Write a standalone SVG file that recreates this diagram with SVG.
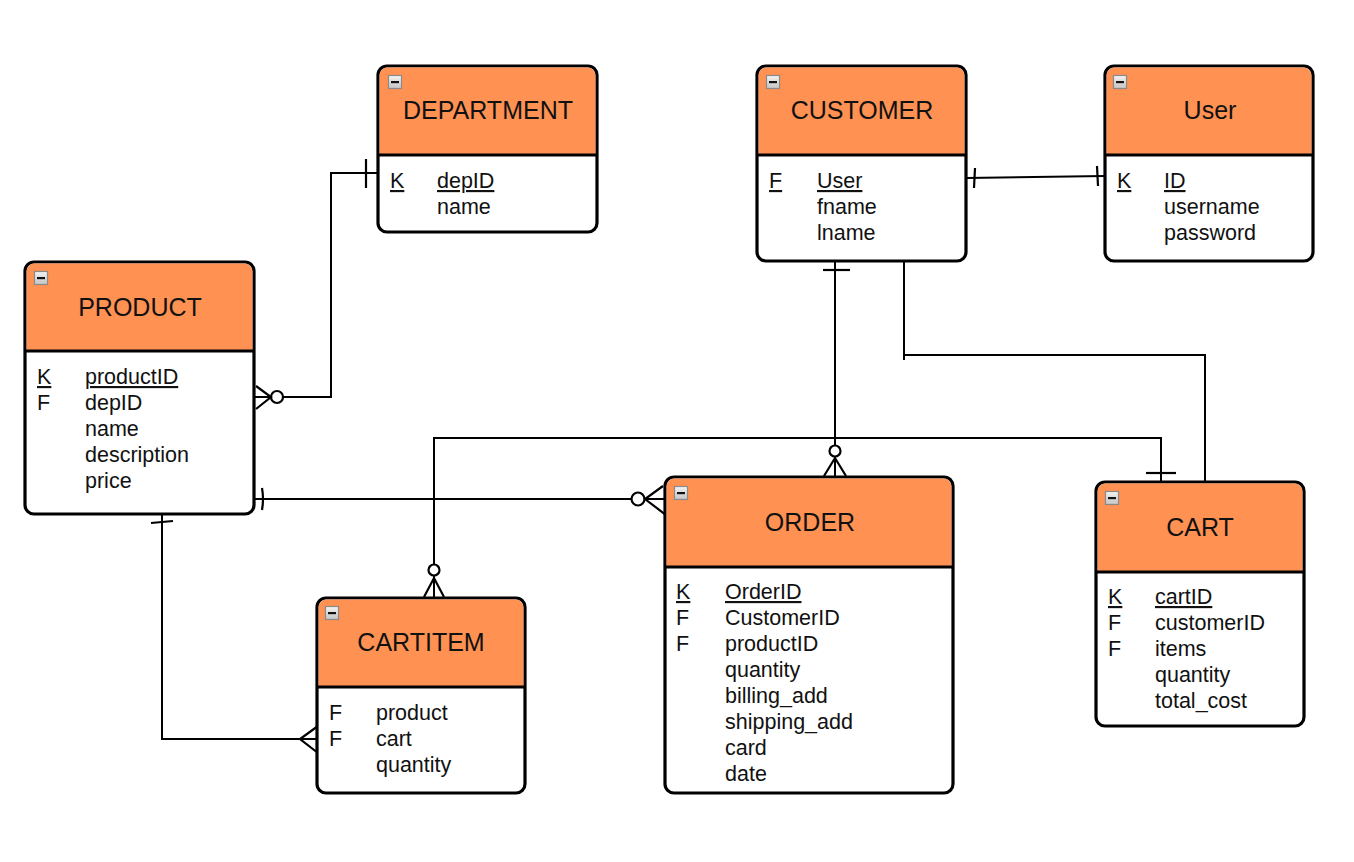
<svg xmlns="http://www.w3.org/2000/svg" width="1354" height="862" viewBox="0 0 1354 862">
<defs>
<linearGradient id="mg" x1="0" y1="0" x2="0" y2="1"><stop offset="0" stop-color="#f4f4f4"/><stop offset="1" stop-color="#c4c4c4"/></linearGradient>
<g id="minus"><rect x="0.5" y="0.5" width="13" height="13" fill="url(#mg)" stroke="#8a8a8a" stroke-width="1.2"/><rect x="3" y="6" width="8" height="2.2" fill="#111"/></g>
</defs>
<style>
.box{fill:#fff;stroke:#000;stroke-width:3.2}
.hdr{fill:#ff9152}
.sep{stroke:#000;stroke-width:3.2}
.t{font-family:"Liberation Sans",Arial,sans-serif;font-size:25px;fill:#111;text-anchor:middle}
.a{font-family:"Liberation Sans",Arial,sans-serif;font-size:21.5px;fill:#111}
.u{text-decoration:underline}
.c{fill:none;stroke:#000;stroke-width:2}
.m{fill:none;stroke:#000;stroke-width:2.2}
.mc{fill:#fff;stroke:#000;stroke-width:2.2}
</style>
<rect width="1354" height="862" fill="#fff"/>

<g id="connectors">
<!-- PRODUCT - DEPARTMENT -->
<polyline class="c" points="254,397 331,397 331,173 378,173"/>
<line class="m" x1="366" y1="159" x2="366" y2="188"/>
<circle class="mc" cx="277" cy="397" r="6"/>
<polyline class="m" points="256,386 271,397 256,409"/>
<!-- CUSTOMER - User -->
<line class="c" x1="966" y1="178" x2="1105" y2="176"/>
<line class="m" x1="975" y1="168" x2="974" y2="188"/>
<line class="m" x1="1097" y1="166" x2="1098" y2="186"/>
<!-- CUSTOMER - ORDER -->
<line class="c" x1="835" y1="261" x2="835" y2="477"/>
<line class="m" x1="823" y1="270" x2="850" y2="270"/>
<circle class="mc" cx="835" cy="451" r="5.5"/>
<polyline class="m" points="824,476 835,458 846,476"/>
<!-- CUSTOMER - CART -->
<polyline class="c" points="904,261 904,355 1205,355 1205,482"/>
<line class="c" x1="904" y1="355" x2="904" y2="360"/>
<!-- CARTITEM - CART -->
<polyline class="c" points="434,598 434,438 1161,438 1161,482"/>
<line class="m" x1="1146" y1="473" x2="1176" y2="473"/>
<circle class="mc" cx="434" cy="570" r="5.5"/>
<polyline class="m" points="424,597 434,578 444,597"/>
<!-- PRODUCT - ORDER -->
<line class="c" x1="248" y1="499" x2="665" y2="499"/>
<path class="m" d="M262,488 Q264,499 262,510"/>
<circle class="mc" cx="638" cy="499" r="6.5"/>
<polyline class="m" points="663,486 645,499 666,515"/>
<!-- PRODUCT - CARTITEM -->
<polyline class="c" points="162,514 162,739 317,739"/>
<line class="m" x1="151" y1="523" x2="173" y2="521"/>
<polyline class="m" points="318,726 300,739 318,753"/>
</g>

<g id="product">
<rect class="box" x="25" y="262" width="229" height="252" rx="9"/>
<path class="hdr" d="M26.6,351 V272 a8,8 0 0 1 8,-8.4 H244 a8,8 0 0 1 8.4,8.4 V351 Z"/>
<line class="sep" x1="25" y1="351" x2="254" y2="351"/>
<use href="#minus" x="34" y="271"/>
<text class="t" x="140" y="316">PRODUCT</text>
<text class="a u" x="37" y="384">K</text><text class="a u" x="85" y="384">productID</text>
<text class="a" x="37" y="410">F</text><text class="a" x="85" y="410">depID</text>
<text class="a" x="85" y="436">name</text>
<text class="a" x="85" y="462">description</text>
<text class="a" x="85" y="488">price</text>
</g>

<g id="department">
<rect class="box" x="378" y="66" width="219" height="166" rx="9"/>
<path class="hdr" d="M379.6,155 V76 a8,8 0 0 1 8,-8.4 H587 a8,8 0 0 1 8.4,8.4 V155 Z"/>
<line class="sep" x1="378" y1="155" x2="597" y2="155"/>
<use href="#minus" x="388" y="75"/>
<text class="t" x="488" y="119">DEPARTMENT</text>
<text class="a u" x="390" y="188">K</text><text class="a u" x="437" y="188">depID</text>
<text class="a" x="437" y="214">name</text>
</g>

<g id="customer">
<rect class="box" x="757" y="66" width="209" height="195" rx="9"/>
<path class="hdr" d="M758.6,155 V76 a8,8 0 0 1 8,-8.4 H956 a8,8 0 0 1 8.4,8.4 V155 Z"/>
<line class="sep" x1="757" y1="155" x2="966" y2="155"/>
<use href="#minus" x="766" y="75"/>
<text class="t" x="862" y="119">CUSTOMER</text>
<text class="a u" x="769" y="188">F</text><text class="a u" x="817" y="188">User</text>
<text class="a" x="817" y="214">fname</text>
<text class="a" x="817" y="240">lname</text>
</g>

<g id="user">
<rect class="box" x="1105" y="66" width="208" height="195" rx="9"/>
<path class="hdr" d="M1106.6,155 V76 a8,8 0 0 1 8,-8.4 H1303 a8,8 0 0 1 8.4,8.4 V155 Z"/>
<line class="sep" x1="1105" y1="155" x2="1313" y2="155"/>
<use href="#minus" x="1113" y="75"/>
<text class="t" x="1210" y="119">User</text>
<text class="a u" x="1117" y="188">K</text><text class="a u" x="1164" y="188">ID</text>
<text class="a" x="1164" y="214">username</text>
<text class="a" x="1164" y="240">password</text>
</g>

<g id="order">
<rect class="box" x="665" y="477" width="288" height="316" rx="9"/>
<path class="hdr" d="M666.6,567 V487 a8,8 0 0 1 8,-8.4 H943 a8,8 0 0 1 8.4,8.4 V567 Z"/>
<line class="sep" x1="665" y1="567" x2="953" y2="567"/>
<use href="#minus" x="674" y="486"/>
<text class="t" x="810" y="531">ORDER</text>
<text class="a u" x="676" y="599">K</text><text class="a u" x="725" y="599">OrderID</text>
<text class="a" x="676" y="625">F</text><text class="a" x="725" y="625">CustomerID</text>
<text class="a" x="676" y="651">F</text><text class="a" x="725" y="651">productID</text>
<text class="a" x="725" y="677">quantity</text>
<text class="a" x="725" y="703">billing_add</text>
<text class="a" x="725" y="729">shipping_add</text>
<text class="a" x="725" y="755">card</text>
<text class="a" x="725" y="781">date</text>
</g>

<g id="cart">
<rect class="box" x="1096" y="482" width="208" height="244" rx="9"/>
<path class="hdr" d="M1097.6,572 V492 a8,8 0 0 1 8,-8.4 H1294 a8,8 0 0 1 8.4,8.4 V572 Z"/>
<line class="sep" x1="1096" y1="572" x2="1304" y2="572"/>
<use href="#minus" x="1105" y="491"/>
<text class="t" x="1200" y="536">CART</text>
<text class="a u" x="1108" y="604">K</text><text class="a u" x="1155" y="604">cartID</text>
<text class="a" x="1108" y="630">F</text><text class="a" x="1155" y="630">customerID</text>
<text class="a" x="1108" y="656">F</text><text class="a" x="1155" y="656">items</text>
<text class="a" x="1155" y="682">quantity</text>
<text class="a" x="1155" y="708">total_cost</text>
</g>

<g id="cartitem">
<rect class="box" x="317" y="598" width="208" height="195" rx="9"/>
<path class="hdr" d="M318.6,687 V608 a8,8 0 0 1 8,-8.4 H515 a8,8 0 0 1 8.4,8.4 V687 Z"/>
<line class="sep" x1="317" y1="687" x2="525" y2="687"/>
<use href="#minus" x="325" y="606"/>
<text class="t" x="421" y="651">CARTITEM</text>
<text class="a" x="329" y="720">F</text><text class="a" x="376" y="720">product</text>
<text class="a" x="329" y="746">F</text><text class="a" x="376" y="746">cart</text>
<text class="a" x="376" y="772">quantity</text>
</g>
</svg>
